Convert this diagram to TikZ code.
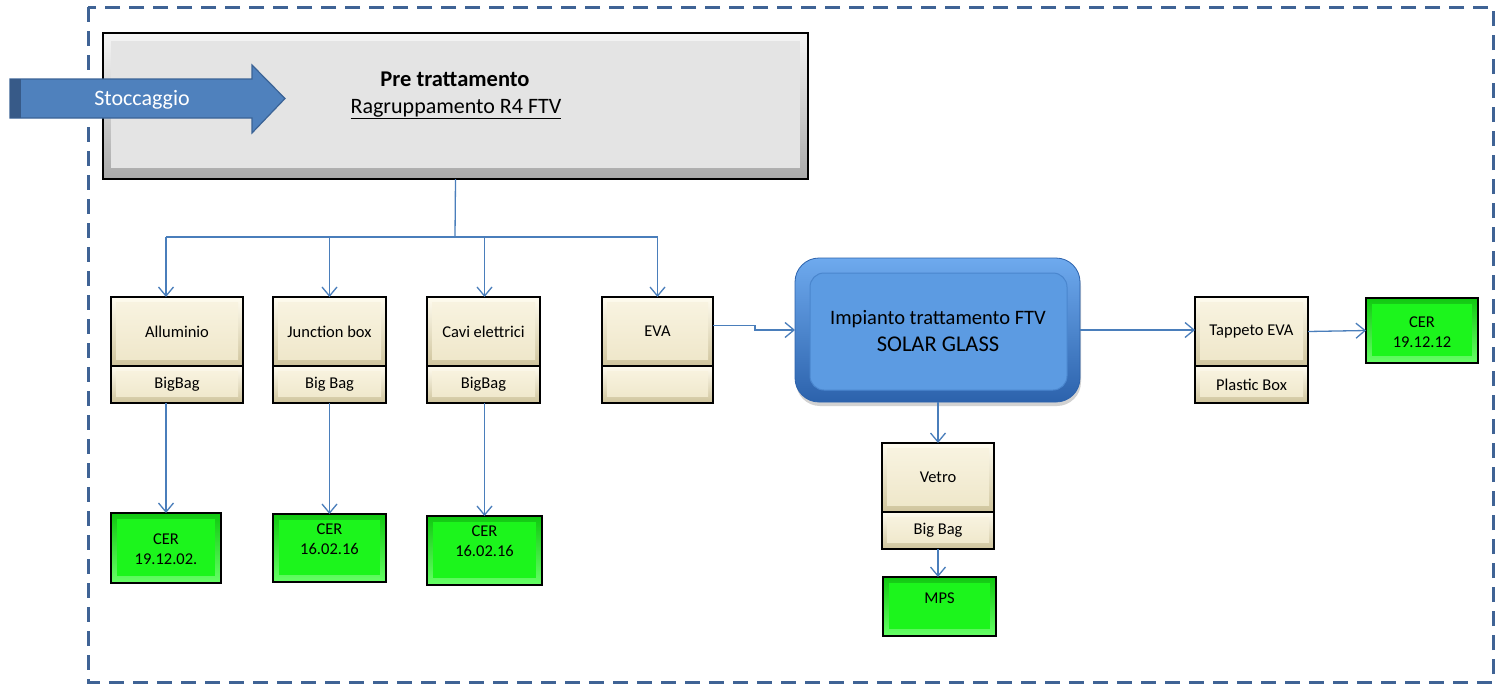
\documentclass[tikz,border=0pt]{standalone}
\usepackage{fontspec}
\setmainfont{Carlito}
\usetikzlibrary{arrows.meta,shadows}
\definecolor{lineblue}{HTML}{4A7EBB}
\definecolor{dashblue}{HTML}{3F6395}
\definecolor{arrowblue}{HTML}{4F81BD}
\definecolor{arrowedge}{HTML}{3B6396}
\definecolor{arrowdark}{HTML}{375A88}
\definecolor{creamhi}{HTML}{FFFCF0}
\definecolor{creamlo}{HTML}{CFC49C}
\definecolor{creamin1}{HTML}{F9F4E2}
\definecolor{creamin2}{HTML}{EEE6C8}
\definecolor{greenhi}{HTML}{10C810}
\definecolor{greenlo}{HTML}{66FF66}
\definecolor{greenin}{HTML}{1CF51C}
\definecolor{grayhi}{HTML}{F6F6F6}
\definecolor{graylo}{HTML}{A9A9A9}
\definecolor{grayin}{HTML}{E4E4E4}
\definecolor{solarhi}{HTML}{6EAAEE}
\definecolor{solarlo}{HTML}{2C62AC}
\definecolor{solarin}{HTML}{5C9BE2}
\definecolor{solaredge}{HTML}{4A86CE}
\begin{document}
\begin{tikzpicture}[x=1pt,y=-1pt,
  every node/.style={inner sep=0pt,outer sep=0pt,font=\fontsize{16.5}{20}\selectfont},
  creambox/.style={draw=black,line width=1.6pt,top color=creamhi,bottom color=creamlo,
    path picture={\shade[top color=creamin1,bottom color=creamin2]
      ([shift={(5pt,-5pt)}]path picture bounding box.north west) rectangle
      ([shift={(-5pt,7pt)}]path picture bounding box.south east);}},
  greenbox/.style={draw=black,line width=1.8pt,top color=greenhi,bottom color=greenlo,
    path picture={\fill[greenin]
      ([shift={(6pt,-6pt)}]path picture bounding box.north west) rectangle
      ([shift={(-6pt,7pt)}]path picture bounding box.south east);}},
  prebox/.style={draw=black,line width=1.6pt,top color=grayhi,bottom color=graylo,
    path picture={\fill[grayin]
      ([shift={(8pt,-8pt)}]path picture bounding box.north west) rectangle
      ([shift={(-8pt,11pt)}]path picture bounding box.south east);}},
  solarbox/.style={rounded corners=24pt,draw=solarlo,line width=0.8pt,top color=solarhi,bottom color=solarlo,
    drop shadow={opacity=0.35,shadow xshift=1pt,shadow yshift=-4pt},
    path picture={\filldraw[fill=solarin,draw=solaredge,line width=1pt,rounded corners=14pt]
      ([shift={(15pt,-15pt)}]path picture bounding box.north west) rectangle
      ([shift={(-13pt,12pt)}]path picture bounding box.south east);}},
  line/.style={draw=lineblue,line width=1.3pt},
  conn/.style={line,-{Straight Barb[length=9pt,width=15pt,line width=1.3pt]}}
]
\useasboundingbox (0,0) rectangle (1497,686);
\fill[white] (0,0) rectangle (1497,686);

% dashed frame
\draw[dashblue,line width=3pt,dash pattern=on 15pt off 9pt] (88,7) rectangle (1493,682);

% pre-treatment box
\node[prebox,minimum width=705pt,minimum height=146pt] (pre) at (455.5,106) {};
\node[font=\bfseries\fontsize{22.5}{26}\selectfont] (pret) at (455,79) {Pre trattamento};
\node[font=\fontsize{22}{26}\selectfont] (ragr) at (456,109) {\underline{Ragruppamento R4 FTV}};

% Stoccaggio arrow
\filldraw[fill=arrowblue,draw=arrowedge,line width=1.2pt]
  (10,79) -- (252,79) -- (252,65) -- (285,98.5) -- (252,133) -- (252,118) -- (10,118) -- cycle;
\fill[arrowdark] (10,79) rectangle (21,118);
\node[text=white,font=\fontsize{22}{26}\selectfont] (stocc) at (142,100) {Stoccaggio};

% first row of boxes
\node[creambox,minimum width=132pt,minimum height=69pt] (allu) at (177,331.5) {Alluminio};
\node[creambox,minimum width=132pt,minimum height=37pt] (alluB) at (177,384.5) {BigBag};
\node[creambox,minimum width=113pt,minimum height=69pt] (junc) at (329.5,331.5) {Junction box};
\node[creambox,minimum width=113pt,minimum height=37pt] (juncB) at (329.5,384.5) {Big Bag};
\node[creambox,minimum width=113pt,minimum height=69pt] (cavi) at (483.5,331.5) {Cavi elettrici};
\node[creambox,minimum width=113pt,minimum height=37pt] (caviB) at (483.5,384.5) {BigBag};
\node[creambox,minimum width=111pt,minimum height=69pt] (eva) at (657.5,331.5) {EVA};
\node[creambox,minimum width=111pt,minimum height=37pt] (evaB) at (657.5,384.5) {};

% green CER boxes
\node[greenbox,minimum width=110pt,minimum height=70pt] (cer1) at (166,548) {};
\node[align=center] (cer1t) at (166,549) {CER\\19.12.02.};
\node[greenbox,minimum width=113pt,minimum height=68pt] (cer2) at (329.5,548) {};
\node[align=center] (cer2t) at (329.5,539) {CER\\16.02.16};
\node[greenbox,minimum width=115pt,minimum height=69pt] (cer3) at (484.5,550.5) {};
\node[align=center] (cer3t) at (484.5,541.5) {CER\\16.02.16};

% Solar glass
\node[solarbox,minimum width=285pt,minimum height=144pt] (solar) at (937.5,330) {};
\node[align=center,font=\fontsize{20.5}{27}\selectfont] (solart) at (938,331)
  {Impianto trattamento FTV\\{\fontsize{22.5}{27}\selectfont SOLAR GLASS}};

% Tappeto EVA
\node[creambox,minimum width=113pt,minimum height=69pt] (tap) at (1251.5,331.5) {Tappeto EVA};
\node[creambox,minimum width=113pt,minimum height=37pt] (tapB) at (1251.5,384.5) {Plastic Box};
\node[greenbox,minimum width=112pt,minimum height=65pt] (cer4) at (1422,330.5) {};
\node[align=center] (cer4t) at (1422,332) {CER\\19.12.12};

% Vetro
\node[creambox,minimum width=112pt,minimum height=69pt] (vetro) at (938,477.5) {Vetro};
\node[creambox,minimum width=112pt,minimum height=37pt] (vetroB) at (938,530.5) {Big Bag};
\node[greenbox,minimum width=113pt,minimum height=59pt] (mps) at (939.5,606.5) {};
\node (mpst) at (939.5,598) {MPS};

% connectors
\coordinate (bus) at (455,237);
\draw[line] (pre.south) -- (bus);
\draw[line] (bus -| cer1.north) -- (bus -| eva.north);
\draw[conn] (bus -| cer1.north) -- (cer1.north |- allu.north);
\draw[conn] (bus -| junc.north) -- (junc.north);
\draw[conn] (bus -| cer3.north) -- (cer3.north |- cavi.north);
\draw[conn] (bus -| eva.north) -- (eva.north);
\draw[conn] (cer1.north |- alluB.south) -- (cer1.north);
\draw[conn] (juncB.south) -- (cer2.north);
\draw[conn] (cer3.north |- caviB.south) -- (cer3.north);
\draw[conn] ([yshift=6pt]eva.east) -- ++(42,0) |- (solar.west);
\draw[conn] (solar.east) -- (solar.east -| tap.west);
\draw[conn] (tap.east) -- (cer4.west);
\draw[conn] (solar.south -| vetro.north) -- (vetro.north);
\draw[conn] (vetroB.south) -- (vetroB.south |- mps.north);
\end{tikzpicture}
\end{document}
